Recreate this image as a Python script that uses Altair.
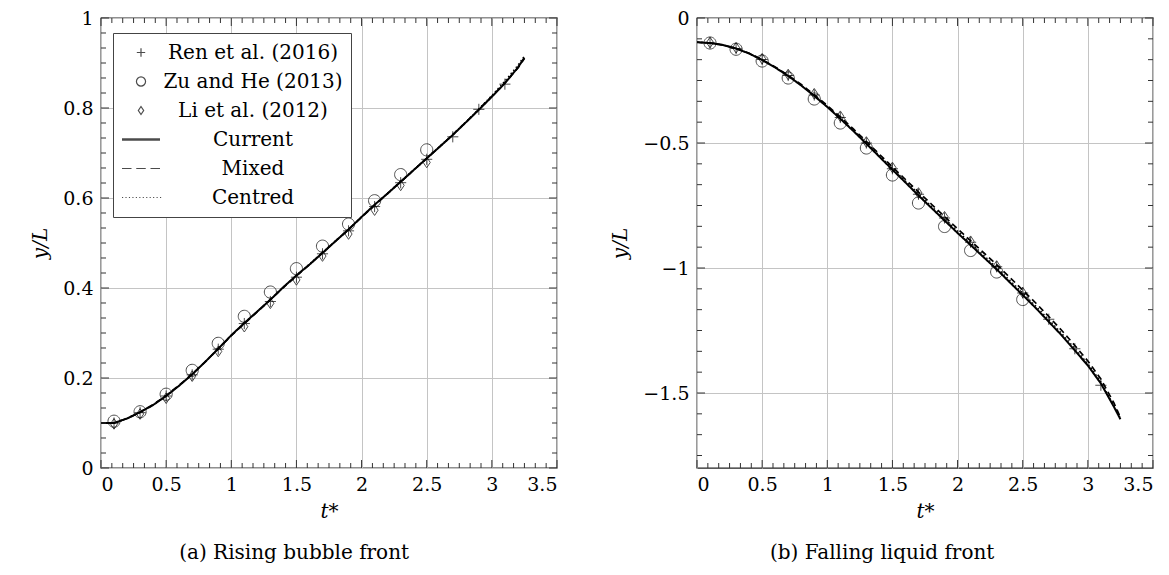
import altair as alt
import pandas as pd
import numpy as np

FONT = "DejaVu Serif"

# ---------------- (a) Rising bubble front ----------------
a_t_ren = [0.1, 0.3, 0.5, 0.7, 0.9, 1.1, 1.3, 1.5, 1.7, 1.9, 2.1, 2.3, 2.5, 2.7, 2.9, 3.1]
a_ren = [0.100, 0.123, 0.160, 0.207, 0.264, 0.321, 0.370, 0.424, 0.476, 0.527, 0.581, 0.634, 0.686, 0.736, 0.797, 0.853]
a_t_exp = [0.1, 0.3, 0.5, 0.7, 0.9, 1.1, 1.3, 1.5, 1.7, 1.9, 2.1, 2.3, 2.5]
a_zu = [0.104, 0.125, 0.164, 0.217, 0.277, 0.337, 0.391, 0.443, 0.493, 0.542, 0.594, 0.652, 0.707]
a_li = [0.098, 0.120, 0.155, 0.204, 0.259, 0.314, 0.366, 0.418, 0.471, 0.520, 0.573, 0.628, 0.679]

t_sim = [0.0, 0.1, 0.2, 0.3, 0.4, 0.5, 0.6, 0.7, 0.8, 0.9, 1.0, 1.1, 1.2, 1.3, 1.4, 1.5, 1.6,
         1.7, 1.8, 1.9, 2.0, 2.1, 2.2, 2.3, 2.4, 2.5, 2.6, 2.7, 2.8, 2.9, 3.0, 3.1, 3.2, 3.25]
a_current = [0.100, 0.100, 0.110, 0.124, 0.140, 0.160, 0.183, 0.208, 0.236, 0.265, 0.295, 0.322,
             0.348, 0.374, 0.402, 0.428, 0.452, 0.478, 0.504, 0.530, 0.558, 0.585, 0.610, 0.636,
             0.662, 0.688, 0.714, 0.740, 0.768, 0.796, 0.825, 0.855, 0.890, 0.912]
a_mixed = [0.100, 0.100, 0.110, 0.124, 0.141, 0.161, 0.184, 0.209, 0.236, 0.265, 0.294, 0.321,
           0.347, 0.374, 0.401, 0.427, 0.452, 0.478, 0.504, 0.530, 0.557, 0.584, 0.610, 0.636,
           0.662, 0.688, 0.714, 0.741, 0.768, 0.797, 0.826, 0.856, 0.889, 0.910]
a_centred = [0.100, 0.100, 0.110, 0.124, 0.140, 0.160, 0.183, 0.208, 0.236, 0.265, 0.295, 0.322,
             0.348, 0.374, 0.402, 0.428, 0.453, 0.479, 0.505, 0.531, 0.558, 0.585, 0.611, 0.637,
             0.663, 0.689, 0.715, 0.741, 0.769, 0.798, 0.828, 0.860, 0.895, 0.916]

# ---------------- (b) Falling liquid front ----------------
b_t_ren = [0.1, 0.3, 0.5, 0.7, 0.9, 1.1, 1.3, 1.5, 1.7, 1.9, 2.1, 2.3, 2.5, 2.7, 2.9, 3.1]
b_ren = [-0.100, -0.122, -0.166, -0.230, -0.308, -0.398, -0.500, -0.603, -0.705, -0.800, -0.897,
         -0.995, -1.100, -1.205, -1.323, -1.469]
b_t_exp = [0.1, 0.3, 0.5, 0.7, 0.9, 1.1, 1.3, 1.5, 1.7, 1.9, 2.1, 2.3, 2.5]
b_zu = [-0.100, -0.125, -0.172, -0.240, -0.324, -0.420, -0.520, -0.628, -0.740, -0.834, -0.930,
        -1.016, -1.126]
b_li = [-0.098, -0.119, -0.163, -0.226, -0.303, -0.393, -0.496, -0.598, -0.700, -0.795, -0.893,
        -0.992, -1.098]
b_current = [-0.097, -0.100, -0.108, -0.122, -0.142, -0.168, -0.198, -0.232, -0.270, -0.312, -0.356,
             -0.403, -0.452, -0.503, -0.555, -0.607, -0.658, -0.710, -0.760, -0.810, -0.860, -0.908,
             -0.957, -1.005, -1.057, -1.108, -1.160, -1.215, -1.270, -1.330, -1.390, -1.462, -1.555,
             -1.605]
b_mixed = [-0.097, -0.100, -0.108, -0.122, -0.141, -0.167, -0.196, -0.229, -0.266, -0.307, -0.350,
           -0.396, -0.444, -0.494, -0.545, -0.596, -0.646, -0.696, -0.745, -0.794, -0.843, -0.891,
           -0.939, -0.987, -1.037, -1.088, -1.140, -1.194, -1.250, -1.310, -1.372, -1.444, -1.540,
           -1.598]
b_centred = [-0.097, -0.100, -0.108, -0.122, -0.142, -0.168, -0.197, -0.231, -0.269, -0.310, -0.354,
             -0.400, -0.449, -0.499, -0.550, -0.601, -0.652, -0.703, -0.753, -0.803, -0.852, -0.900,
             -0.949, -0.998, -1.049, -1.100, -1.152, -1.206, -1.262, -1.322, -1.383, -1.455, -1.550,
             -1.602]

marker_names = ["Ren et al. (2016)", "Zu and He (2013)", "Li et al. (2012)"]
line_names = ["Current", "Mixed", "Centred"]
all_names = marker_names + line_names

x_major = [0, 0.5, 1, 1.5, 2, 2.5, 3, 3.5]
a_y_major = [0, 0.2, 0.4, 0.6, 0.8, 1]
b_y_major = [-1.5, -1, -0.5, 0]

W, H = 456, 450

# symbol paths (unit = half of legend symbol size)
P_PLUS = "M-0.22,0H0.22M0,-0.22V0.22"
P_CIRC = "M0.24,0A0.24,0.24,0,1,1,-0.24,0A0.24,0.24,0,1,1,0.24,0Z"
P_DIAM = "M0,-0.21L0.14,0L0,0.21L-0.14,0Z"
P_SOLID = "M-1,-0.03H1M-1,0.03H1"
P_DASH = "M-1,0H-0.5M-0.25,0H0.25M0.5,0H1"
P_DOT = "".join("M%.3f,0H%.3f" % (-1 + i * 0.1818, -1 + i * 0.1818 + 0.06) for i in range(12))
shape_range = [P_PLUS, P_CIRC, P_DIAM, P_SOLID, P_DASH, P_DOT]


def minor_ticks(major, lo, hi, n=5):
    step = major[1] - major[0]
    ext = [major[0] - step] + list(major) + [major[-1] + step]
    out = []
    for m in ext:
        for k in range(1, n + 1):
            v = m + k * step / (n + 1)
            if lo + 1e-9 < v < hi - 1e-9:
                out.append(round(v, 6))
    return out


def panel(t_sim, cur, mix, cen, t_ren, ren, t_exp, zu, li, y_major, ydom, caption, with_legend):
    xscale = alt.Scale(domain=[0, 3.5], nice=False, zero=False)
    yscale = alt.Scale(domain=ydom, nice=False, zero=False)

    lines_df = pd.concat([
        pd.DataFrame({"t": t_sim, "v": cur, "series": "Current"}),
        pd.DataFrame({"t": t_sim, "v": mix, "series": "Mixed"}),
        pd.DataFrame({"t": t_sim, "v": cen, "series": "Centred"}),
    ])
    pts_df = pd.concat([
        pd.DataFrame({"t": t_ren, "v": ren, "series": marker_names[0]}),
        pd.DataFrame({"t": t_exp, "v": zu, "series": marker_names[1]}),
        pd.DataFrame({"t": t_exp, "v": li, "series": marker_names[2]}),
    ])

    xaxis = alt.Axis(values=x_major, format="~g", title="t*", grid=True, ticks=False, domain=False,
                     labelPadding=7, titlePadding=7)
    yaxis = alt.Axis(values=y_major, format="~g", title="y/L", grid=True, ticks=False, domain=False,
                     labelPadding=8, titlePadding=12)

    lines = alt.Chart(lines_df).mark_line(color="black", clip=True).encode(
        x=alt.X("t:Q", scale=xscale, axis=xaxis),
        y=alt.Y("v:Q", scale=yscale, axis=yaxis),
        strokeDash=alt.StrokeDash("series:N", scale=alt.Scale(domain=line_names,
                                  range=[[1, 0], [6, 4], [1.5, 2.5]]), legend=None),
        strokeWidth=alt.StrokeWidth("series:N", scale=alt.Scale(domain=line_names,
                                    range=[2.0, 1.4, 1.3]), legend=None),
        order="t:Q",
    )

    if with_legend:
        legend = alt.Legend(orient="none", legendX=12, legendY=15, title=None,
                            labelFont=FONT, labelFontSize=20, labelColor="black", labelLimit=400,
                            labelAlign="center", labelOffset=92, clipHeight=23,
                            symbolSize=1444, symbolStrokeWidth=1.2, symbolStrokeColor="black",
                            symbolFillColor="transparent", strokeColor="#444", fillColor="white",
                            padding=8, rowPadding=6)
    else:
        legend = None

    pts = alt.Chart(pts_df).mark_point(filled=False, color="black", strokeWidth=1.0, size=2560).encode(
        x=alt.X("t:Q", scale=xscale, axis=xaxis),
        y=alt.Y("v:Q", scale=yscale, axis=yaxis),
        shape=alt.Shape("series:N", scale=alt.Scale(domain=all_names, range=shape_range), legend=legend),
    )

    layers = [lines, pts]
    x_minor = minor_ticks(x_major, 0, 3.5)
    y_minor = minor_ticks(y_major, ydom[0], ydom[1])
    for vals, L in [(x_major, 8), (x_minor, 5)]:
        base = alt.Chart(pd.DataFrame({"t": vals})).mark_rule(color="#333", strokeWidth=1)
        xe = alt.X("t:Q", scale=xscale, axis=xaxis)
        layers.append(base.encode(x=xe, y=alt.value(H), y2=alt.value(H - L)))
        layers.append(base.encode(x=xe, y=alt.value(0), y2=alt.value(L)))
    for vals, L in [(y_major, 8), (y_minor, 5)]:
        base = alt.Chart(pd.DataFrame({"v": vals})).mark_rule(color="#333", strokeWidth=1)
        ye = alt.Y("v:Q", scale=yscale, axis=yaxis)
        layers.append(base.encode(y=ye, x=alt.value(0), x2=alt.value(L)))
        layers.append(base.encode(y=ye, x=alt.value(W), x2=alt.value(W - L)))

    return alt.layer(*layers).properties(
        width=W, height=H,
        title=alt.TitleParams(text=caption, orient="bottom", anchor="middle", frame="bounds",
                              font=FONT, fontSize=20, fontWeight="normal", color="black", offset=22),
    )


left = panel(t_sim, a_current, a_mixed, a_centred, a_t_ren, a_ren, a_t_exp, a_zu, a_li,
             a_y_major, [0, 1], "(a) Rising bubble front", True)
right = panel(t_sim, b_current, b_mixed, b_centred, b_t_ren, b_ren, b_t_exp, b_zu, b_li,
              b_y_major, [-1.8, 0], "(b) Falling liquid front", False)

chart = alt.hconcat(left, right, spacing=51).resolve_scale(
    shape="independent", strokeDash="independent", strokeWidth="independent"
).resolve_legend(shape="independent").properties(
    padding={"left": 22, "top": 0, "right": 0, "bottom": 0}
).configure_view(stroke="#222", strokeWidth=1.3).configure_axis(
    labelFont=FONT, labelFontSize=19, labelColor="black",
    titleFont=FONT, titleFontSize=20, titleColor="black", titleFontWeight="normal",
    titleFontStyle="italic", gridColor="#c4c4c4", gridWidth=1,
)

chart.save("out.html", embed_options={"renderer": "svg", "actions": False})
